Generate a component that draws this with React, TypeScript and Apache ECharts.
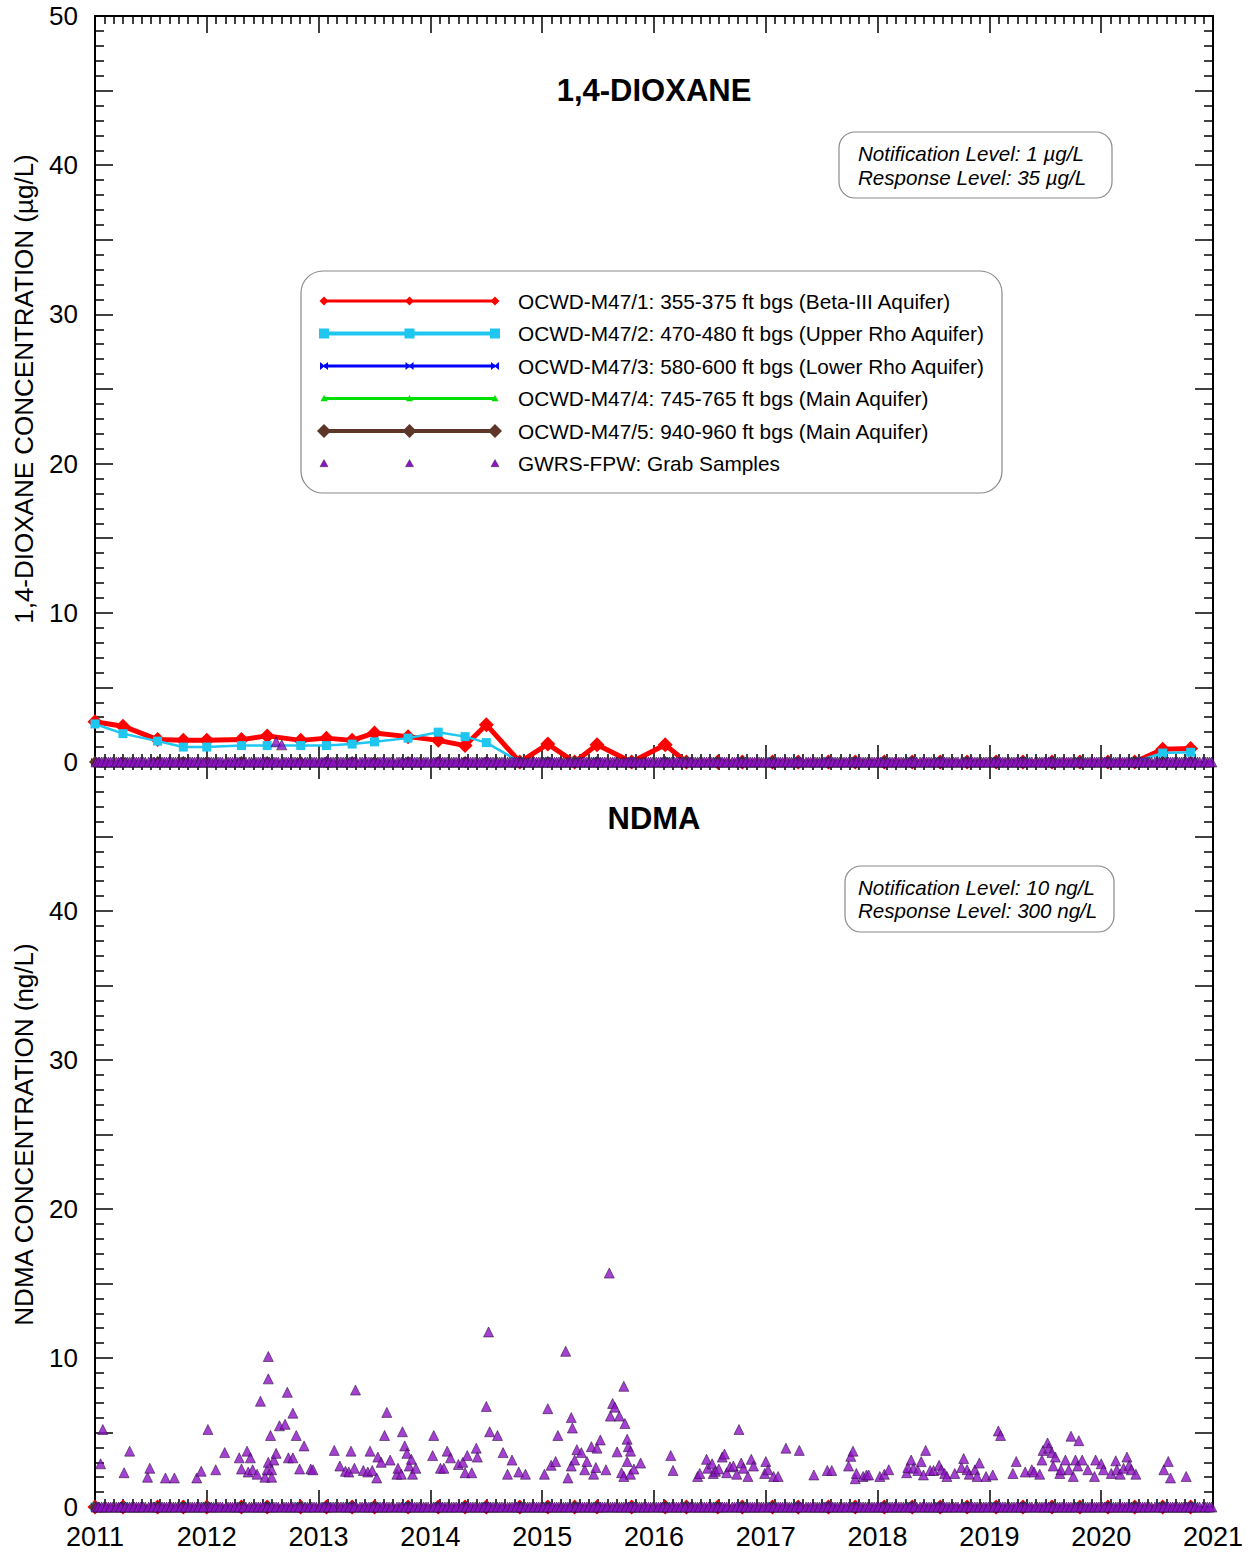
import React, { useEffect, useRef } from "react";
import * as echarts from "echarts";

const FONT = '"Liberation Sans", Arial, Helvetica, sans-serif';

// ---------- DATA ----------
const yearMin = 2011;
const yearMax = 2021;

// monitoring-well sampling dates (decimal years)
const wellDates = [
  2011.0, 2011.25, 2011.56, 2011.79, 2012.0, 2012.31, 2012.54, 2012.84, 2013.07, 2013.3,
  2013.5, 2013.8, 2014.07, 2014.31, 2014.5, 2014.8, 2015.05, 2015.29, 2015.49, 2015.8,
  2016.1, 2016.29, 2016.57, 2016.79, 2017.06, 2017.29, 2017.56, 2017.8, 2018.06, 2018.31,
  2018.56, 2018.8, 2019.06, 2019.3, 2019.56, 2019.81, 2020.06, 2020.3, 2020.55, 2020.8,
];

// 1,4-dioxane (ug/L)
const dioxaneM47_1 = [
  2.7, 2.4, 1.5, 1.45, 1.45, 1.5, 1.75, 1.45, 1.6, 1.45,
  1.95, 1.7, 1.45, 1.1, 2.5, 0, 1.2, 0, 1.15, 0,
  1.15, 0, 0, 0, 0, 0, 0, 0, 0, 0,
  0, 0, 0, 0, 0, 0, 0, 0, 0.85, 0.9,
];
const dioxaneM47_2 = [
  2.55, 1.9, 1.4, 1.0, 1.0, 1.1, 1.1, 1.1, 1.1, 1.2,
  1.35, 1.6, 2.0, 1.7, 1.3, 0, 0, 0, 0, 0,
  0, 0, 0, 0, 0, 0, 0, 0, 0, 0,
  0, 0, 0, 0, 0, 0, 0, 0, 0.6, 0.65,
];
// non-detects (plotted at zero)
const nonDetect = [
  0, 0, 0, 0, 0, 0, 0, 0, 0, 0,
  0, 0, 0, 0, 0, 0, 0, 0, 0, 0,
  0, 0, 0, 0, 0, 0, 0, 0, 0, 0,
  0, 0, 0, 0, 0, 0, 0, 0, 0, 0,
];
const dioxaneM47_3 = nonDetect;
const dioxaneM47_4 = nonDetect;
const dioxaneM47_5 = nonDetect;
const ndmaM47_1 = nonDetect;
const ndmaM47_2 = nonDetect;
const ndmaM47_3 = nonDetect;
const ndmaM47_4 = nonDetect;
const ndmaM47_5 = nonDetect;

// GWRS-FPW grab samples reported as non-detect (plotted at 0)
const grabZeroDates = [
  2011.01, 2011.04, 2011.08, 2011.12, 2011.16, 2011.21, 2011.24, 2011.29, 2011.33, 2011.37, 2011.41, 2011.45, 2011.5,
  2011.53, 2011.58, 2011.62, 2011.66, 2011.7, 2011.74, 2011.79, 2011.83, 2011.87, 2011.91, 2011.95, 2011.99,
  2012.02, 2012.06, 2012.1, 2012.14, 2012.19, 2012.23, 2012.27, 2012.31, 2012.35, 2012.4, 2012.44, 2012.48,
  2012.52, 2012.56, 2012.6, 2012.64, 2012.69, 2012.73, 2012.77, 2012.81, 2012.85, 2012.9, 2012.94, 2012.98,
  2013.03, 2013.07, 2013.11, 2013.15, 2013.18, 2013.22, 2013.26, 2013.3, 2013.34, 2013.39, 2013.43, 2013.47,
  2013.51, 2013.55, 2013.59, 2013.63, 2013.67, 2013.72, 2013.75, 2013.8, 2013.84, 2013.88, 2013.92, 2013.96,
  2014.01, 2014.05, 2014.09, 2014.13, 2014.17, 2014.21, 2014.25, 2014.3, 2014.34, 2014.38, 2014.42, 2014.46,
  2014.5, 2014.54, 2014.58, 2014.62, 2014.66, 2014.71, 2014.75, 2014.79, 2014.83, 2014.87, 2014.91, 2014.95, 2014.99,
  2015.03, 2015.07, 2015.11, 2015.15, 2015.19, 2015.23, 2015.28, 2015.32, 2015.36, 2015.4, 2015.44, 2015.48,
  2015.52, 2015.56, 2015.61, 2015.65, 2015.69, 2015.73, 2015.77, 2015.81, 2015.85, 2015.89, 2015.93, 2015.97,
  2016.02, 2016.06, 2016.1, 2016.14, 2016.18, 2016.22, 2016.26, 2016.31, 2016.35, 2016.39, 2016.43, 2016.47,
  2016.51, 2016.55, 2016.59, 2016.63, 2016.67, 2016.72, 2016.76, 2016.8, 2016.84, 2016.88, 2016.92, 2016.96,
  2017.01, 2017.05, 2017.09, 2017.13, 2017.17, 2017.21, 2017.25, 2017.29, 2017.33, 2017.38, 2017.42, 2017.46,
  2017.5, 2017.54, 2017.58, 2017.62, 2017.66, 2017.7, 2017.74, 2017.79, 2017.83, 2017.87, 2017.91, 2017.95, 2017.99,
  2018.03, 2018.07, 2018.11, 2018.15, 2018.19, 2018.23, 2018.27, 2018.31, 2018.35, 2018.4, 2018.44, 2018.48,
  2018.52, 2018.56, 2018.6, 2018.64, 2018.68, 2018.72, 2018.77, 2018.81, 2018.85, 2018.89, 2018.93, 2018.97,
  2019.02, 2019.06, 2019.1, 2019.14, 2019.18, 2019.22, 2019.26, 2019.3, 2019.34, 2019.38, 2019.43, 2019.47,
  2019.51, 2019.55, 2019.59, 2019.63, 2019.67, 2019.71, 2019.75, 2019.79, 2019.84, 2019.88, 2019.92, 2019.96,
  2020.01, 2020.05, 2020.09, 2020.13, 2020.17, 2020.21, 2020.25, 2020.29, 2020.33, 2020.37, 2020.41, 2020.45,
  2020.5, 2020.54, 2020.58, 2020.62, 2020.66, 2020.7, 2020.74, 2020.78, 2020.82, 2020.86, 2020.91, 2020.95, 2020.99,
];
// additional non-detect grab samples (between the above)
const grabZeroDatesExtra = [
  2011.03, 2011.06, 2011.1, 2011.14, 2011.19, 2011.23, 2011.27, 2011.31, 2011.35, 2011.39, 2011.43, 2011.48,
  2011.52, 2011.56, 2011.6, 2011.64, 2011.68, 2011.72, 2011.77, 2011.81, 2011.85, 2011.89, 2011.93, 2011.97,
  2012.04, 2012.08, 2012.12, 2012.17, 2012.21, 2012.25, 2012.29, 2012.33, 2012.38, 2012.42, 2012.46, 2012.5,
  2012.54, 2012.58, 2012.62, 2012.67, 2012.71, 2012.75, 2012.79, 2012.83, 2012.88, 2012.92, 2012.96,
  2013.01, 2013.05, 2013.09, 2013.13, 2013.2, 2013.24, 2013.28, 2013.32, 2013.37, 2013.41, 2013.45, 2013.49,
  2013.53, 2013.57, 2013.61, 2013.65, 2013.7, 2013.74, 2013.78, 2013.82, 2013.86, 2013.9, 2013.94, 2013.98,
  2014.03, 2014.07, 2014.11, 2014.15, 2014.19, 2014.23, 2014.28, 2014.32, 2014.36, 2014.4, 2014.44, 2014.48,
  2014.52, 2014.56, 2014.6, 2014.64, 2014.69, 2014.73, 2014.77, 2014.81, 2014.85, 2014.89, 2014.93, 2014.97,
  2015.01, 2015.05, 2015.09, 2015.13, 2015.17, 2015.21, 2015.25, 2015.3, 2015.34, 2015.38, 2015.42, 2015.46,
  2015.5, 2015.54, 2015.58, 2015.63, 2015.67, 2015.71, 2015.75, 2015.79, 2015.83, 2015.87, 2015.91, 2015.95, 2015.99,
  2016.04, 2016.08, 2016.12, 2016.16, 2016.2, 2016.24, 2016.28, 2016.33, 2016.37, 2016.41, 2016.45, 2016.49,
  2016.53, 2016.57, 2016.61, 2016.65, 2016.7, 2016.74, 2016.78, 2016.82, 2016.86, 2016.9, 2016.94, 2016.98,
  2017.03, 2017.07, 2017.11, 2017.15, 2017.19, 2017.23, 2017.27, 2017.31, 2017.36, 2017.4, 2017.44, 2017.48,
  2017.52, 2017.56, 2017.6, 2017.64, 2017.68, 2017.72, 2017.77, 2017.81, 2017.85, 2017.89, 2017.93, 2017.97,
  2018.01, 2018.05, 2018.09, 2018.13, 2018.17, 2018.21, 2018.25, 2018.29, 2018.33, 2018.38, 2018.42, 2018.46,
  2018.5, 2018.54, 2018.58, 2018.62, 2018.66, 2018.7, 2018.75, 2018.79, 2018.83, 2018.87, 2018.91, 2018.95, 2018.99,
  2019.04, 2019.08, 2019.12, 2019.16, 2019.2, 2019.24, 2019.28, 2019.32, 2019.36, 2019.41, 2019.45, 2019.49,
  2019.53, 2019.57, 2019.61, 2019.65, 2019.69, 2019.73, 2019.77, 2019.82, 2019.86, 2019.9, 2019.94, 2019.98,
  2020.03, 2020.07, 2020.11, 2020.15, 2020.19, 2020.23, 2020.27, 2020.31, 2020.35, 2020.39, 2020.43, 2020.48,
  2020.52, 2020.56, 2020.6, 2020.64, 2020.68, 2020.72, 2020.76, 2020.8, 2020.84, 2020.88, 2020.93, 2020.97,
];

// GWRS-FPW grab samples with detections [date, value]
const dioxaneGrabDetects = [
  [2012.62, 1.35], [2012.67, 1.15],
];
const ndmaGrabDetects = [
  [2011.05, 2.9], [2011.07, 5.2], [2011.26, 2.3], [2011.31, 3.75], [2011.47, 2.0], [2011.49, 2.6],
  [2011.63, 1.95], [2011.71, 1.95], [2011.91, 1.95], [2011.95, 2.4],
  [2012.01, 5.2], [2012.08, 2.5], [2012.16, 3.65], [2012.29, 3.3], [2012.31, 2.55], [2012.36, 3.75],
  [2012.37, 2.35], [2012.39, 3.3], [2012.41, 2.5], [2012.45, 2.2], [2012.48, 7.1], [2012.52, 2.0],
  [2012.54, 2.5], [2012.55, 10.1], [2012.55, 8.6], [2012.55, 3.0], [2012.57, 4.8], [2012.58, 2.5],
  [2012.58, 2.0], [2012.6, 3.15], [2012.62, 3.6], [2012.65, 5.45], [2012.7, 5.55], [2012.72, 7.7],
  [2012.73, 3.3], [2012.77, 6.3], [2012.77, 3.3], [2012.8, 4.8], [2012.83, 2.55], [2012.87, 4.1],
  [2012.93, 2.55], [2012.95, 2.5],
  [2013.14, 3.8], [2013.19, 2.75], [2013.24, 2.4], [2013.27, 2.35], [2013.29, 3.75], [2013.32, 2.6],
  [2013.33, 7.85], [2013.4, 2.45], [2013.44, 2.35], [2013.46, 3.75], [2013.48, 2.45], [2013.52, 1.95],
  [2013.53, 3.35], [2013.56, 3.0], [2013.59, 4.8], [2013.61, 6.35], [2013.64, 3.15], [2013.7, 2.2],
  [2013.71, 2.6], [2013.74, 2.2], [2013.75, 5.05], [2013.77, 4.1], [2013.79, 3.6], [2013.81, 2.75],
  [2013.83, 3.2], [2013.84, 2.2], [2013.87, 2.6],
  [2014.02, 3.45], [2014.03, 4.8], [2014.09, 2.6], [2014.12, 2.6], [2014.15, 3.75], [2014.18, 3.3],
  [2014.25, 2.85], [2014.29, 3.0], [2014.31, 2.3], [2014.33, 3.45], [2014.37, 2.3], [2014.41, 3.95],
  [2014.42, 3.35], [2014.5, 6.75], [2014.52, 11.75], [2014.53, 5.05], [2014.6, 4.8], [2014.65, 3.65],
  [2014.69, 2.2], [2014.73, 3.15], [2014.79, 2.35], [2014.85, 2.2],
  [2015.02, 2.2], [2015.05, 6.6], [2015.08, 2.8], [2015.12, 3.05], [2015.14, 4.8], [2015.21, 10.45],
  [2015.23, 1.95], [2015.26, 6.0], [2015.26, 2.75], [2015.27, 5.3], [2015.29, 3.15], [2015.31, 3.85],
  [2015.35, 3.65], [2015.38, 2.5], [2015.4, 3.05], [2015.44, 4.05], [2015.46, 2.2], [2015.48, 2.65],
  [2015.49, 3.95], [2015.52, 4.5], [2015.57, 2.5], [2015.6, 15.7], [2015.61, 6.1], [2015.63, 6.95],
  [2015.65, 6.7], [2015.67, 3.7], [2015.69, 6.1], [2015.71, 2.3], [2015.73, 8.1], [2015.73, 2.05],
  [2015.74, 5.6], [2015.76, 4.55], [2015.76, 3.05], [2015.77, 4.05], [2015.79, 3.75], [2015.79, 2.2],
  [2015.82, 2.55], [2015.88, 2.95],
  [2016.15, 3.45], [2016.17, 2.45], [2016.39, 2.05], [2016.41, 2.25], [2016.47, 3.2], [2016.48, 2.6],
  [2016.52, 2.9], [2016.53, 2.25], [2016.55, 2.4], [2016.58, 2.55], [2016.61, 3.35], [2016.63, 3.55],
  [2016.65, 2.3], [2016.68, 2.7], [2016.71, 2.75], [2016.74, 2.2], [2016.76, 5.2], [2016.78, 2.95],
  [2016.8, 2.6], [2016.84, 2.05], [2016.87, 3.2], [2016.89, 2.75], [2016.99, 2.25],
  [2017.0, 3.05], [2017.02, 2.5], [2017.07, 2.05], [2017.11, 2.05], [2017.18, 3.95], [2017.3, 3.8],
  [2017.43, 2.15], [2017.55, 2.45], [2017.59, 2.45], [2017.74, 2.75], [2017.76, 3.4], [2017.78, 3.75],
  [2017.8, 1.9], [2017.81, 2.25], [2017.87, 2.05], [2017.9, 2.15], [2017.92, 2.15],
  [2018.02, 2.05], [2018.06, 2.2], [2018.1, 2.5], [2018.26, 2.3], [2018.27, 2.65], [2018.3, 3.15],
  [2018.32, 2.6], [2018.36, 2.45], [2018.39, 3.05], [2018.41, 2.15], [2018.43, 3.8], [2018.47, 2.45],
  [2018.5, 2.45], [2018.55, 2.8], [2018.57, 2.5], [2018.6, 2.25], [2018.62, 2.05], [2018.69, 2.25],
  [2018.75, 2.65], [2018.77, 3.25], [2018.8, 2.5], [2018.82, 2.2], [2018.87, 2.5], [2018.89, 2.05],
  [2018.91, 2.95], [2018.97, 2.05],
  [2019.03, 2.15], [2019.08, 5.1], [2019.1, 4.8], [2019.21, 2.25], [2019.24, 3.05], [2019.32, 2.35],
  [2019.38, 2.5], [2019.4, 2.35], [2019.45, 2.2], [2019.47, 3.15], [2019.48, 3.8], [2019.52, 4.3],
  [2019.53, 3.95], [2019.56, 3.65], [2019.57, 2.75], [2019.59, 3.35], [2019.63, 2.25], [2019.64, 2.5],
  [2019.68, 3.15], [2019.71, 2.5], [2019.73, 4.75], [2019.75, 2.05], [2019.77, 3.15], [2019.79, 2.75],
  [2019.8, 4.45], [2019.83, 3.15], [2019.88, 2.5], [2019.94, 2.05], [2019.95, 3.15],
  [2020.0, 2.9], [2020.02, 2.5], [2020.09, 2.25], [2020.13, 3.1], [2020.14, 2.5], [2020.17, 2.2],
  [2020.2, 2.6], [2020.23, 3.35], [2020.25, 2.8], [2020.27, 2.5], [2020.31, 2.2], [2020.56, 2.5],
  [2020.6, 3.05], [2020.62, 1.95], [2020.76, 2.05],
];

const legendLabels = [
  "OCWD-M47/1: 355-375 ft bgs (Beta-III Aquifer)",
  "OCWD-M47/2: 470-480 ft bgs (Upper Rho Aquifer)",
  "OCWD-M47/3: 580-600 ft bgs (Lower Rho Aquifer)",
  "OCWD-M47/4: 745-765 ft bgs (Main Aquifer)",
  "OCWD-M47/5: 940-960 ft bgs (Main Aquifer)",
  "GWRS-FPW: Grab Samples",
];
const panelTitles = ["1,4-DIOXANE", "NDMA"];
const yAxisNames = ["1,4-DIOXANE CONCENTRATION (µg/L)", "NDMA CONCENTRATION (ng/L)"];
const levelNotes = [
  ["Notification Level: 1 µg/L", "Response Level: 35 µg/L"],
  ["Notification Level: 10 ng/L", "Response Level: 300 ng/L"],
];

// ---------- STYLES ----------
const BOWTIE = "path://M0,0L5,4L10,0L10,10L5,6L0,10Z";
const wellStyles = [
  { color: "#ff0000", width: 5, symbol: "diamond", size: 15, legendW: 3, legendMarker: "diamond", lm: 4.5 },
  { color: "#1ec6f0", width: 2.5, symbol: "rect", size: 9, legendW: 4, legendMarker: "rect", lm: 5 },
  { color: "#0000ff", width: 2.5, symbol: BOWTIE, size: 8, legendW: 3, legendMarker: "bowtie", lm: 4 },
  { color: "#00e000", width: 2.5, symbol: "triangle", size: 6, legendW: 3, legendMarker: "triangle", lm: 3.5 },
  { color: "#5e3529", width: 2.5, symbol: "diamond", size: 12, legendW: 4, legendMarker: "diamond", lm: 7 },
];
const GRAB_COLOR = "#8e12c6";

const GRID_LEFT = 95;
const GRID_W = 1118;
const GRIDS = [
  { top: 16, height: 746 },
  { top: 762, height: 745 },
];

function markerShape(kind: string, cx: number, cy: number, r: number, color: string) {
  if (kind === "rect") {
    return { type: "rect", shape: { x: cx - r, y: cy - r, width: 2 * r, height: 2 * r }, style: { fill: color } };
  }
  let pts: number[][];
  if (kind === "diamond") pts = [[cx, cy - r], [cx + r, cy], [cx, cy + r], [cx - r, cy]];
  else if (kind === "triangle") pts = [[cx, cy - r], [cx + r, cy + r * 0.8], [cx - r, cy + r * 0.8]];
  else pts = [[cx - r, cy - r], [cx, cy - r * 0.2], [cx + r, cy - r], [cx + r, cy + r], [cx, cy + r * 0.2], [cx - r, cy + r]];
  return { type: "polygon", shape: { points: pts }, style: { fill: color, stroke: kind === "triangle" && color === GRAB_COLOR ? "#333" : undefined, lineWidth: 0.5 } };
}

function buildOption() {
  const axisLineStyle = { color: "#000", width: 2 };
  const tickStyle = { color: "#000", width: 1.5 };

  const xAxes: any[] = [];
  const yAxes: any[] = [];
  GRIDS.forEach((_, gi) => {
    ["bottom", "top"].forEach((pos) => {
      const showLabel = gi === 1 && pos === "bottom";
      xAxes.push({
        type: "value",
        gridIndex: gi,
        position: pos,
        min: yearMin,
        max: yearMax,
        interval: 1,
        splitLine: { show: false },
        axisLine: { show: true, onZero: false, lineStyle: axisLineStyle },
        axisTick: { show: true, inside: true, length: 17, lineStyle: tickStyle },
        minorTick: { show: true, splitNumber: 12, length: 8, lineStyle: tickStyle },
        axisLabel: {
          show: showLabel,
          fontSize: 27,
          fontFamily: FONT,
          color: "#000",
          margin: 16,
          showMinLabel: true,
          showMaxLabel: true,
          formatter: (v: number) => String(Math.round(v)),
        },
      });
    });
    ["left", "right"].forEach((pos) => {
      const left = pos === "left";
      yAxes.push({
        type: "value",
        gridIndex: gi,
        position: pos,
        min: 0,
        max: 50,
        interval: 5,
        name: left ? yAxisNames[gi] : "",
        nameLocation: "middle",
        nameRotate: 90,
        nameGap: 58,
        nameTextStyle: { fontSize: 26, fontFamily: FONT, color: "#000" },
        splitLine: { show: false },
        axisLine: { show: true, onZero: false, lineStyle: axisLineStyle },
        axisTick: { show: true, inside: true, length: 18, lineStyle: tickStyle },
        minorTick: { show: true, splitNumber: 5, length: 9, lineStyle: tickStyle },
        axisLabel: {
          show: left,
          fontSize: 26,
          fontFamily: FONT,
          color: "#000",
          margin: 17,
          showMinLabel: true,
          showMaxLabel: true,
          formatter: (v: number) => {
            if (v % 10 !== 0) return "";
            if (gi === 1 && v === 50) return "";
            return String(v);
          },
        },
      });
    });
  });

  const wellSets = [
    [dioxaneM47_1, dioxaneM47_2, dioxaneM47_3, dioxaneM47_4, dioxaneM47_5],
    [ndmaM47_1, ndmaM47_2, ndmaM47_3, ndmaM47_4, ndmaM47_5],
  ];
  const grabDetects = [dioxaneGrabDetects, ndmaGrabDetects];
  const zeroDates = [...grabZeroDates, ...grabZeroDatesExtra];

  const series: any[] = [];
  wellSets.forEach((set, gi) => {
    set.forEach((vals, i) => {
      const st = wellStyles[i];
      series.push({
        type: "line",
        name: legendLabels[i],
        xAxisIndex: gi * 2,
        yAxisIndex: gi * 2,
        data: wellDates.map((d, k) => [d, vals[k]]),
        symbol: st.symbol,
        symbolSize: st.size,
        showSymbol: true,
        showAllSymbol: true,
        clip: false,
        lineStyle: { color: st.color, width: st.width },
        itemStyle: { color: st.color },
        z: 2 + i,
        silent: true,
      });
    });
    series.push({
      type: "scatter",
      name: legendLabels[5],
      xAxisIndex: gi * 2,
      yAxisIndex: gi * 2,
      data: [...zeroDates.map((d) => [d, 0]), ...grabDetects[gi]],
      symbol: "triangle",
      symbolSize: 10,
      clip: false,
      itemStyle: { color: GRAB_COLOR, borderColor: "#2a0a3c", borderWidth: 0.7 },
      z: 10,
      silent: true,
    });
  });

  const graphics: any[] = [];
  [90, 818].forEach((y, gi) => {
    graphics.push({
      type: "text",
      x: GRID_LEFT + GRID_W / 2,
      y,
      style: {
        text: panelTitles[gi],
        fontSize: 31,
        fontWeight: "bold",
        fontFamily: FONT,
        fill: "#000",
        align: "center",
        verticalAlign: "middle",
      },
    });
  });
  const noteBoxes = [
    { x: 839, y: 132, w: 273, h: 66, tx: 858, ty: [153, 177] },
    { x: 845, y: 866, w: 269, h: 66, tx: 858, ty: [887, 910] },
  ];
  noteBoxes.forEach((b, gi) => {
    graphics.push({
      type: "rect",
      shape: { x: b.x, y: b.y, width: b.w, height: b.h, r: 16 },
      style: { fill: "#fff", stroke: "#8a8a8a", lineWidth: 1.2 },
      z: 20,
    });
    levelNotes[gi].forEach((t, li) => {
      graphics.push({
        type: "text",
        x: b.tx,
        y: b.ty[li],
        z: 21,
        style: {
          text: t,
          fontSize: 20.6,
          fontStyle: "italic",
          fontFamily: FONT,
          fill: "#000",
          align: "left",
          verticalAlign: "middle",
        },
      });
    });
  });
  graphics.push({
    type: "rect",
    shape: { x: 301, y: 271, width: 701, height: 222, r: 22 },
    style: { fill: "#fff", stroke: "#8a8a8a", lineWidth: 1.2 },
    z: 20,
  });
  const rowYs = [301, 333.5, 366, 398.5, 431, 463.5];
  const mx = [324, 409.5, 495];
  rowYs.forEach((y, i) => {
    if (i < 5) {
      const st = wellStyles[i];
      graphics.push({
        type: "line",
        shape: { x1: mx[0], y1: y, x2: mx[2], y2: y },
        style: { stroke: st.color, lineWidth: st.legendW },
        z: 21,
      });
      mx.forEach((x) => graphics.push({ ...markerShape(st.legendMarker, x, y, st.lm, st.color), z: 22 }));
    } else {
      mx.forEach((x) => graphics.push({ ...markerShape("triangle", x, y, 4, GRAB_COLOR), z: 22 }));
    }
    graphics.push({
      type: "text",
      x: 518,
      y,
      z: 22,
      style: {
        text: legendLabels[i],
        fontSize: 20.8,
        fontFamily: FONT,
        fill: "#000",
        align: "left",
        verticalAlign: "middle",
      },
    });
  });

  return {
    animation: false,
    backgroundColor: "#fff",
    grid: GRIDS.map((g) => ({ left: GRID_LEFT, top: g.top, width: GRID_W, height: g.height, containLabel: false })),
    xAxis: xAxes,
    yAxis: yAxes,
    series,
    graphic: graphics,
  };
}

export default function App() {
  const ref = useRef<HTMLDivElement>(null);
  useEffect(() => {
    if (!ref.current) return;
    const chart = echarts.init(ref.current, null, { renderer: "svg" });
    chart.setOption(buildOption() as any);
    return () => chart.dispose();
  }, []);
  return (
    <div
      ref={ref}
      style={{ position: "absolute", left: 0, top: 0, width: 1250, height: 1554, background: "#fff" }}
    />
  );
}
